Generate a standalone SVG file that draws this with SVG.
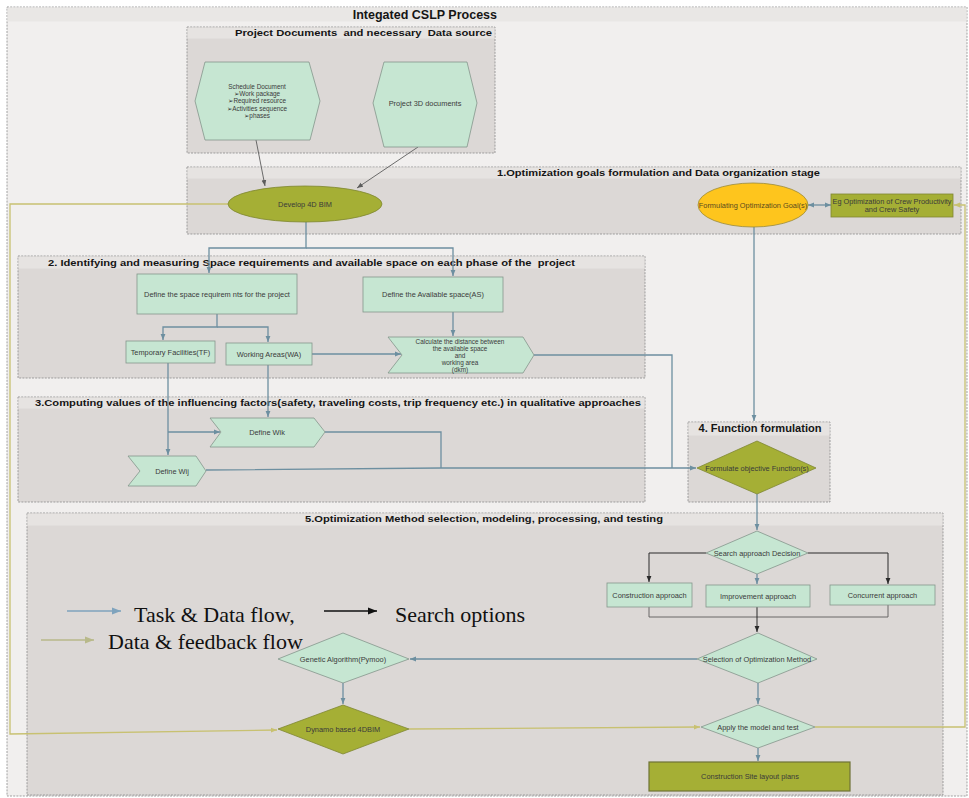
<svg xmlns="http://www.w3.org/2000/svg" width="969" height="798" viewBox="0 0 969 798">
<style>
.sec{fill:#dcd8d6;stroke:#8c8c8c;stroke-width:0.8;stroke-dasharray:2 1.2}
.hdr{fill:#e6e3e1}
.t{font-family:"Liberation Sans",Arial,sans-serif;font-weight:bold;fill:#151515;white-space:pre}
.n{fill:#c6e6d2;stroke:#84968c;stroke-width:0.8}
.o{fill:#a5af35;stroke:#7f8632;stroke-width:0.8}
.lbl{font-family:"Liberation Sans","DejaVu Sans",Arial,sans-serif;font-size:7.4px;fill:#3a3a3a;text-anchor:middle}
.sm{font-size:6.4px}
.tf{stroke:#6d8fa0;fill:none;stroke-width:1.3}
.fb{stroke:#c8c171;fill:none;stroke-width:1.3}
.so{stroke:#2a2a2a;fill:none;stroke-width:1}
.dg{stroke:#5c5c5c;fill:none;stroke-width:0.9}
.leg{font-family:"Liberation Serif","Times New Roman",serif;font-size:22px;fill:#111}
</style>
<defs>
<marker id="ab" viewBox="0 0 10 10" refX="10" refY="5" markerWidth="6" markerHeight="6" markerUnits="userSpaceOnUse" orient="auto-start-reverse"><path d="M0,1 L10,5 L0,9 z" fill="#6d8fa0"/></marker>
<marker id="ak" viewBox="0 0 10 10" refX="10" refY="5" markerWidth="6" markerHeight="6" markerUnits="userSpaceOnUse" orient="auto"><path d="M0,1 L10,5 L0,9 z" fill="#2a2a2a"/></marker>
<marker id="ay" viewBox="0 0 10 10" refX="10" refY="5" markerWidth="6" markerHeight="6" markerUnits="userSpaceOnUse" orient="auto"><path d="M0,1 L10,5 L0,9 z" fill="#c8c171"/></marker>
<marker id="ag" viewBox="0 0 10 10" refX="10" refY="5" markerWidth="6" markerHeight="6" markerUnits="userSpaceOnUse" orient="auto"><path d="M0,1 L10,5 L0,9 z" fill="#5c5c5c"/></marker>
<marker id="abL" viewBox="0 0 10 10" refX="10" refY="5" markerWidth="9" markerHeight="9" markerUnits="userSpaceOnUse" orient="auto"><path d="M0,1 L10,5 L0,9 z" fill="#7fa3bd"/></marker>
<marker id="akL" viewBox="0 0 10 10" refX="10" refY="5" markerWidth="9" markerHeight="9" markerUnits="userSpaceOnUse" orient="auto"><path d="M0,1 L10,5 L0,9 z" fill="#111"/></marker>
<marker id="ayL" viewBox="0 0 10 10" refX="10" refY="5" markerWidth="9" markerHeight="9" markerUnits="userSpaceOnUse" orient="auto"><path d="M0,1 L10,5 L0,9 z" fill="#b8b98a"/></marker>
</defs>

<g id="frame">
<rect x="7" y="7" width="960" height="789" fill="#f1efee" stroke="#8c8c8c" stroke-width="0.8" stroke-dasharray="2 1.2"/>
<rect x="7.5" y="7.5" width="959" height="14" fill="#e9e7e5"/>
<text class="t" x="497" y="19" font-size="12.5" text-anchor="end">Integated CSLP Process</text>
</g>

<g id="sec-docs">
<rect class="sec" x="187" y="27" width="308" height="126"/>
<rect class="hdr" x="187.5" y="27.5" width="307" height="11"/>
<text class="t" x="492" y="36" font-size="9.5" text-anchor="end" textLength="257" lengthAdjust="spacingAndGlyphs" xml:space="preserve">Project Documents  and necessary  Data source</text>
</g>
<g id="sec-1">
<rect class="sec" x="187" y="167" width="774" height="67"/>
<rect class="hdr" x="187.5" y="167.5" width="773" height="11"/>
<text class="t" x="497" y="176" font-size="9.5" textLength="323" lengthAdjust="spacingAndGlyphs">1.Optimization goals formulation and Data organization stage</text>
</g>
<g id="sec-2">
<rect class="sec" x="18" y="256" width="627" height="122"/>
<rect class="hdr" x="18.5" y="256.5" width="626" height="12"/>
<text class="t" x="48" y="266" font-size="9.5" textLength="527" lengthAdjust="spacingAndGlyphs" xml:space="preserve">2. Identifying and measuring Space requirements and available space on each phase of the  project</text>
</g>
<g id="sec-3">
<rect class="sec" x="18" y="397" width="627" height="105"/>
<rect class="hdr" x="18.5" y="397.5" width="626" height="11"/>
<text class="t" x="35" y="406" font-size="9" textLength="606" lengthAdjust="spacingAndGlyphs">3.Computing values of the influencing factors(safety, traveling costs, trip frequency etc.) in qualitative approaches</text>
</g>
<g id="sec-4">
<rect class="sec" x="688" y="422" width="142" height="80"/>
<rect class="hdr" x="688.5" y="422.5" width="141" height="13"/>
<text class="t" x="760" y="432" font-size="10.5" text-anchor="middle" textLength="123" lengthAdjust="spacingAndGlyphs">4. Function formulation</text>
</g>
<g id="sec-5">
<rect class="sec" x="27" y="513" width="916" height="282"/>
<rect class="hdr" x="27.5" y="513.5" width="915" height="12"/>
<text class="t" x="305" y="522" font-size="8.5" textLength="358" lengthAdjust="spacingAndGlyphs">5.Optimization Method selection, modeling, processing, and testing</text>
</g>

<g id="connectors">
<path class="dg" d="M256,140 L265,186" marker-end="url(#ag)"/>
<path class="dg" d="M418,147 L357,188" marker-end="url(#ag)"/>
<path class="tf" d="M808,205 H831" marker-start="url(#ab)" marker-end="url(#ab)"/>
<path class="tf" d="M306,222 V248 H209 V273" marker-end="url(#ab)"/>
<path class="tf" d="M306,248 H453 V276" marker-end="url(#ab)"/>
<path class="tf" d="M217,314 V327 H163 V340" marker-end="url(#ab)"/>
<path class="tf" d="M217,327 H268 V342" marker-end="url(#ab)"/>
<path class="tf" d="M453,312 V336" marker-end="url(#ab)"/>
<path class="tf" d="M312,354 H401" marker-end="url(#ab)"/>
<path class="tf" d="M534,355 H672 V468"/>
<path class="tf" d="M168,363 V455" marker-end="url(#ab)"/>
<path class="tf" d="M168,432 H220" marker-end="url(#ab)"/>
<path class="tf" d="M268,365 V417" marker-end="url(#ab)"/>
<path class="tf" d="M325,432 H441 V468"/>
<path class="tf" d="M206,470 L441,468 H696" marker-end="url(#ab)"/>
<path class="tf" d="M754,227 V421" marker-end="url(#ab)"/>
<path class="tf" d="M757,494 V530" marker-end="url(#ab)"/>
<path class="so" d="M706,553 H649 V582" marker-end="url(#ak)"/>
<path class="so" d="M808,553 H888 V584" marker-end="url(#ak)"/>
<path class="tf" d="M757,574 V584" marker-end="url(#ab)"/>
<path class="dg" d="M649,607 V617 H888 V605"/>
<path class="so" stroke-width="1.4" d="M757,607 V632" marker-end="url(#ak)"/>
<path class="tf" d="M697,659 H410" marker-end="url(#ab)"/>
<path class="tf" d="M343,683 V704" marker-end="url(#ab)"/>
<path class="tf" d="M758,683 V704" marker-end="url(#ab)"/>
<path class="tf" d="M758,748 V761" marker-end="url(#ab)"/>
<path class="fb" d="M409,729 L700,727" marker-end="url(#ay)"/>
<path class="fb" d="M815,727 H965 V205 H954" marker-end="url(#ay)"/>
<path class="fb" d="M228,204 H10 V734 L277,730" marker-end="url(#ay)"/>
</g>

<g id="n-schedule">
<polygon class="n" points="195,101 205,62 309,62 320,101 310,140 205,140"/>
<text class="lbl sm" x="257" y="89">Schedule Document</text>
<text class="lbl sm" x="257" y="96.2">➢Work package</text>
<text class="lbl sm" x="257" y="103.4">➢Required resource</text>
<text class="lbl sm" x="257" y="110.6">➢Activities sequence</text>
<text class="lbl sm" x="257" y="117.8">➢phases</text>
</g>
<g id="n-3d">
<polygon class="n" points="373,103 384,62 467,62 477,103 467,147 384,147"/>
<text class="lbl" x="425" y="106">Project 3D documents</text>
</g>
<g id="n-4dbim">
<ellipse class="o" cx="305" cy="204" rx="77" ry="18"/>
<text class="lbl" x="305" y="206.5">Develop 4D BIM</text>
</g>
<g id="n-goals">
<ellipse cx="753" cy="205" rx="55" ry="22" fill="#fec51d" stroke="#9b8a3a" stroke-width="0.8"/>
<text class="lbl" x="753" y="207.5" style="fill:#5a4a1e">Formulating Optimization Goal(s)</text>
</g>
<g id="n-eg">
<rect class="o" x="831" y="194" width="122" height="23"/>
<text class="lbl" x="892" y="204" textLength="119" lengthAdjust="spacingAndGlyphs">Eg Optimization of Crew Productivity</text>
<text class="lbl" x="892" y="212">and Crew Safety</text>
</g>
<g id="n-spacereq">
<rect class="n" x="137" y="274" width="160" height="40"/>
<text class="lbl" x="217" y="296.5">Define the space requirem nts for the project</text>
</g>
<g id="n-as">
<rect class="n" x="363" y="277" width="140" height="35"/>
<text class="lbl" x="433" y="296.5">Define the Available space(AS)</text>
</g>
<g id="n-tf">
<rect class="n" x="126" y="341" width="89" height="22"/>
<text class="lbl" x="170.5" y="354.5">Temporary Facilities(TF)</text>
</g>
<g id="n-wa">
<rect class="n" x="226" y="343" width="86" height="22"/>
<text class="lbl" x="269" y="356.5">Working Areas(WA)</text>
</g>
<g id="n-dkm">
<polygon class="n" points="388,337 523,337 534,355 523,373 388,373 402,355"/>
<text class="lbl sm" x="460" y="344">Calculate the distance between</text>
<text class="lbl sm" x="460" y="351">the available space</text>
<text class="lbl sm" x="460" y="358">and</text>
<text class="lbl sm" x="460" y="365">working area</text>
<text class="lbl sm" x="460" y="372.3">(dkm)</text>
</g>
<g id="n-wik">
<polygon class="n" points="210,418 314,418 325,432 314,447 210,447 221,432"/>
<text class="lbl" x="267" y="434.5">Define Wik</text>
</g>
<g id="n-wij">
<polygon class="n" points="128,456 196,456 206,471 196,486 128,486 140,471"/>
<text class="lbl" x="172" y="473.5">Define Wij</text>
</g>
<g id="n-objective">
<polygon class="o" points="697,468 757,441 816,468 757,494"/>
<text class="lbl" x="757" y="470.5">Formulate objective Function(s)</text>
</g>
<g id="n-search">
<polygon class="n" points="706,553 757,531 808,553 757,574"/>
<text class="lbl" x="757" y="555.5">Search approach Decision</text>
</g>
<g id="n-construction">
<rect class="n" x="607" y="583" width="85" height="24"/>
<text class="lbl" x="649.5" y="597.5">Construction approach</text>
</g>
<g id="n-improvement">
<rect class="n" x="706" y="585" width="104" height="22"/>
<text class="lbl" x="758" y="598.5">Improvement approach</text>
</g>
<g id="n-concurrent">
<rect class="n" x="830" y="585" width="105" height="20"/>
<text class="lbl" x="882.5" y="597.5">Concurrent approach</text>
</g>
<g id="n-selection">
<polygon class="n" points="697,659 758,633 817,659 758,683"/>
<text class="lbl" x="757" y="661.5">Selection of Optimization Method</text>
</g>
<g id="n-ga">
<polygon class="n" points="278,659 343,633 409,659 343,683"/>
<text class="lbl" x="343" y="661.5">Genetic Algorithm(Pymoo)</text>
</g>
<g id="n-dynamo">
<polygon class="o" points="278,729 343,705 409,729 343,754"/>
<text class="lbl" x="343" y="731.5">Dynamo based 4DBIM</text>
</g>
<g id="n-apply">
<polygon class="n" points="701,727 758,705 815,727 758,748"/>
<text class="lbl" x="758" y="729.5">Apply the model and test</text>
</g>
<g id="n-cslp">
<rect x="649" y="762" width="201" height="29" fill="#a5af35" stroke="#6e7236" stroke-width="1.2"/>
<text class="lbl" x="750" y="779">Construction Site layout plans</text>
</g>

<g id="legend">
<path d="M67,611 H121" stroke="#7fa3bd" stroke-width="1.5" fill="none" marker-end="url(#abL)"/>
<text class="leg" x="134" y="622">Task &amp; Data flow,</text>
<path d="M324,611 H377" stroke="#111" stroke-width="1.5" fill="none" marker-end="url(#akL)"/>
<text class="leg" x="395" y="622" font-size="23">Search options</text>
<path d="M41,640 H94" stroke="#b8b98a" stroke-width="1.5" fill="none" marker-end="url(#ayL)"/>
<text class="leg" x="108" y="649">Data &amp; feedback flow</text>
</g>
</svg>
